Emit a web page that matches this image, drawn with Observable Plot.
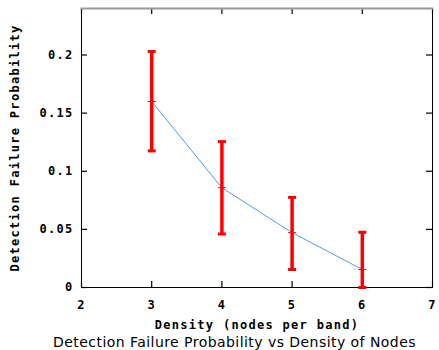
<!DOCTYPE html>
<html>
<head>
<meta charset="utf-8">
<script src="https://cdn.jsdelivr.net/npm/d3@7"></script>
<script src="https://cdn.jsdelivr.net/npm/@observablehq/plot@0.6"></script>
<style>
  html, body { margin: 0; padding: 0; background: #fff; overflow: hidden; }
  #chart { width: 439px; height: 334px; }
  #caption { position: relative; left: 15px; width: 439px; text-align: center; font: 14px "DejaVu Sans", sans-serif; letter-spacing: 0.45px; color: #000; line-height: 16px; white-space: nowrap; }
  svg text { font-family: "DejaVu Sans Mono", monospace; letter-spacing: 1.3px; }
</style>
</head>
<body>
<div id="chart"></div>
<div id="caption">Detection Failure Probability vs Density of Nodes</div>
<script>
const density = [3, 4, 5, 6];
const prob = [0.160, 0.0858, 0.0472, 0.0155];
const lower = [0.1175, 0.046, 0.0155, 0];
const upper = [0.203, 0.1255, 0.0775, 0.0475];
const xTicks = [2, 3, 4, 5, 6, 7];
const yTicks = [0, 0.05, 0.1, 0.15, 0.2];

const data = density.map((d, i) => ({x: d, y: prob[i], lo: lower[i], hi: upper[i]}));

const W = 439, H = 334, mL = 81, mR = 7, mT = 8, mB = 47;
const innerW = W - mL - mR, innerH = H - mT - mB, tick = 6;

const capSymbol = {draw(ctx) { ctx.moveTo(-4, 0); ctx.lineTo(4, 0); }};

const monoStyle = {fontFamily: "DejaVu Sans Mono, monospace", fontSize: 12, fontWeight: "bold"};
const fmt = d3.format("~g");

const plot = Plot.plot({
  width: W,
  height: H,
  marginLeft: mL,
  marginRight: mR,
  marginTop: mT,
  marginBottom: mB,
  style: {background: "#fff", color: "#000", overflow: "visible"},
  x: {domain: [2, 7], ticks: xTicks},
  y: {domain: [0, 0.24], ticks: yTicks},
  marks: [
    // inward tick marks
    Plot.ruleX(xTicks, {x: d => d, insetTop: innerH - tick, stroke: "#000", strokeWidth: 1.2}),
    Plot.ruleX(xTicks, {x: d => d, insetBottom: innerH - tick, stroke: "#000", strokeWidth: 1.2}),
    Plot.ruleY(yTicks, {y: d => d, insetRight: innerW - tick, stroke: "#000", strokeWidth: 1.2}),
    Plot.ruleY(yTicks, {y: d => d, insetLeft: innerW - tick, stroke: "#000", strokeWidth: 1.2}),
    Plot.frame({stroke: "#000"}),
    Plot.frame({anchor: "top", stroke: "#999", strokeWidth: 2}),
    // labels
    Plot.axisX(xTicks, {anchor: "bottom", tickSize: 0, tickPadding: 13, tickFormat: fmt, label: "Density (nodes per band)", labelAnchor: "center", labelOffset: 41, labelArrow: "none", ...monoStyle}),
    Plot.axisY(yTicks, {anchor: "left", tickSize: 0, tickPadding: 8, tickFormat: fmt, label: "Detection Failure Probability", labelAnchor: "center", labelOffset: 71, labelArrow: "none", ...monoStyle}),
    // series line
    Plot.line(data, {x: "x", y: "y", stroke: "#4d9cf5", strokeWidth: 1}),
    // error bars
    Plot.ruleX(data, {x: "x", y1: "lo", y2: "hi", stroke: "#ff0000", strokeWidth: 3.5}),
    Plot.dot(data, {x: "x", y: "hi", symbol: capSymbol, stroke: "#ff0000", strokeWidth: 3, r: 4}),
    Plot.dot(data, {x: "x", y: "lo", symbol: capSymbol, stroke: "#ff0000", strokeWidth: 3, r: 4}),
    Plot.dot(data, {x: "x", y: "y", symbol: capSymbol, stroke: "#ff0000", strokeWidth: 1, r: 4})
  ]
});
document.getElementById("chart").appendChild(plot);
</script>
</body>
</html>
